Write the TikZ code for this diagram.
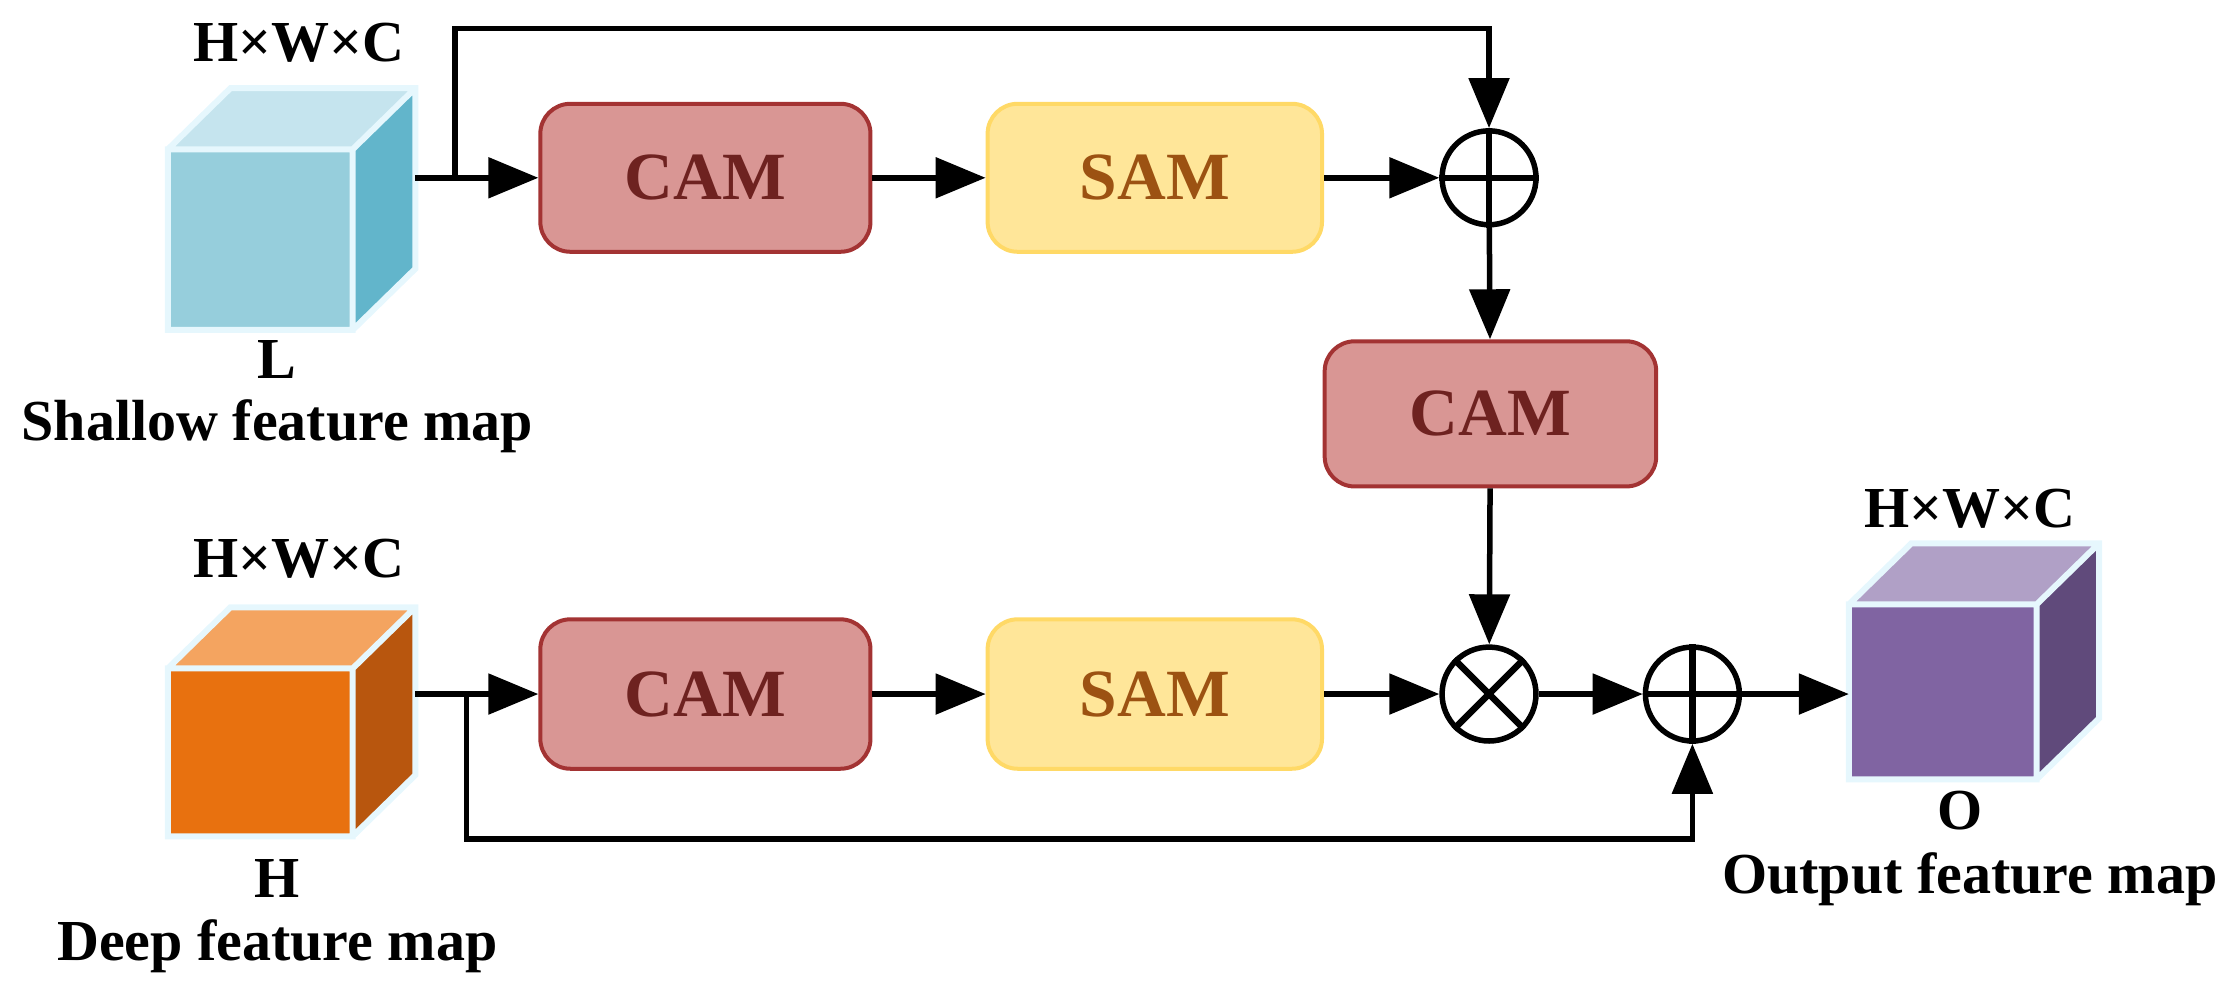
\documentclass[tikz,border=0pt]{standalone}
\usepackage{fontspec}
\setmainfont{Liberation Serif}
\usetikzlibrary{arrows.meta,calc}
\begin{document}
\begin{tikzpicture}[x=0.01cm,y=-0.01cm,
  conn/.style={line width=1.1pt,-{Triangle[length=10pt,width=8pt]}},
  cam/.style={draw=red!55!black!80,fill=camfill,line width=0.8pt,rounded corners=6pt,text=camtext,font=\bfseries\fontsize{13.5}{15}\selectfont},
  sam/.style={draw=samdraw,fill=samfill,line width=0.8pt,rounded corners=6pt,text=samtext,font=\bfseries\fontsize{13.5}{15}\selectfont},
  op/.style={circle,draw,line width=1.1pt,fill=white,minimum size=0.66cm,inner sep=0pt},
  lbl/.style={font=\bfseries\fontsize{11.6}{13}\selectfont}]
\definecolor{camfill}{HTML}{D99694}\definecolor{camtext}{HTML}{6E2220}
\definecolor{samfill}{HTML}{FFE699}\definecolor{samdraw}{HTML}{FFD966}\definecolor{samtext}{HTML}{9C5212}
\useasboundingbox (0,0) rectangle (1568,705);
\newcommand{\mycube}[7]{% x1 y1 x2 y2 front top side
  \fill[#7] (#3,#2) -- (#3+44,#2-43) -- (#3+44,#4-43) -- (#3,#4) -- cycle;
  \fill[#6] (#1,#2) -- (#1+44,#2-43) -- (#3+44,#2-43) -- (#3,#2) -- cycle;
  \fill[#5] (#1,#2) rectangle (#3,#4);
  \draw[line width=1.2pt,draw=cyan!10!white] (#1,#2) rectangle (#3,#4) (#1,#2) -- (#1+44,#2-43) -- (#3+44,#2-43) -- (#3+44,#4-43) -- (#3,#4) (#3,#2) -- (#3+44,#2-43);}
\mycube{118}{105}{248}{232}{fill={rgb,255:red,150;green,206;blue,220}}{fill={rgb,255:red,197;green,228;blue,238}}{fill={rgb,255:red,98;green,181;blue,203}}
\mycube{118}{470}{248}{588}{fill={rgb,255:red,232;green,113;blue,15}}{fill={rgb,255:red,244;green,164;blue,96}}{fill={rgb,255:red,184;green,86;blue,14}}
\mycube{1300}{425}{1432}{548}{fill={rgb,255:red,128;green,100;blue,162}}{fill={rgb,255:red,176;green,160;blue,198}}{fill={rgb,255:red,96;green,74;blue,123}}
\coordinate (c1) at (292,125); \coordinate (c2) at (292,488); \coordinate (c3) at (1300,488);
\node[lbl] at (210,30) {H×W×C};
\node[lbl] at (195,253) {L};
\node[lbl] at (195,300) {Shallow feature map};
\node[lbl] at (210,393) {H×W×C};
\node[lbl] at (195,618) {H};
\node[lbl] at (195,665) {Deep feature map};
\node[lbl] at (1385,358) {H×W×C};
\node[lbl] at (1378,570) {O};
\node[lbl] at (1385,618) {Output feature map};
\node[cam,minimum width=2.32cm,minimum height=1.04cm] (cam1) at (496,125) {CAM};
\node[sam,minimum width=2.35cm,minimum height=1.04cm] (sam1) at (812,125) {SAM};
\node[cam,minimum width=2.33cm,minimum height=1.02cm] (cam2) at (1048,291) {CAM};
\node[cam,minimum width=2.32cm,minimum height=1.05cm] (cam3) at (496,488) {CAM};
\node[sam,minimum width=2.35cm,minimum height=1.05cm] (sam3) at (812,488) {SAM};
\node[op] (p1) at (1047,125) {};
\draw[line width=1.3pt] (p1.north)--(p1.south) (p1.west)--(p1.east);
\node[op] (x1) at (1047,488) {};
\draw[line width=1.3pt] (x1.north west)--(x1.south east) (x1.north east)--(x1.south west);
\node[op] (p2) at (1190,488) {};
\draw[line width=1.3pt] (p2.north)--(p2.south) (p2.west)--(p2.east);
\coordinate (b1) at (320,125); \coordinate (b2) at (328,488);
\draw[conn] (c1) -- (cam1);
\draw[conn] (cam1) -- (sam1);
\draw[conn] (sam1) -- (p1);
\draw[conn] (b1) -- (320,20) -| (p1);
\draw[conn] (p1) -- (cam2);
\draw[conn] (cam2) -- (x1);
\draw[conn] (c2) -- (cam3);
\draw[conn] (cam3) -- (sam3);
\draw[conn] (sam3) -- (x1);
\draw[conn] (x1) -- (p2);
\draw[conn] (p2) -- (c3);
\draw[conn] (b2) -- (328,590) -| (p2);
\end{tikzpicture}
\end{document}
